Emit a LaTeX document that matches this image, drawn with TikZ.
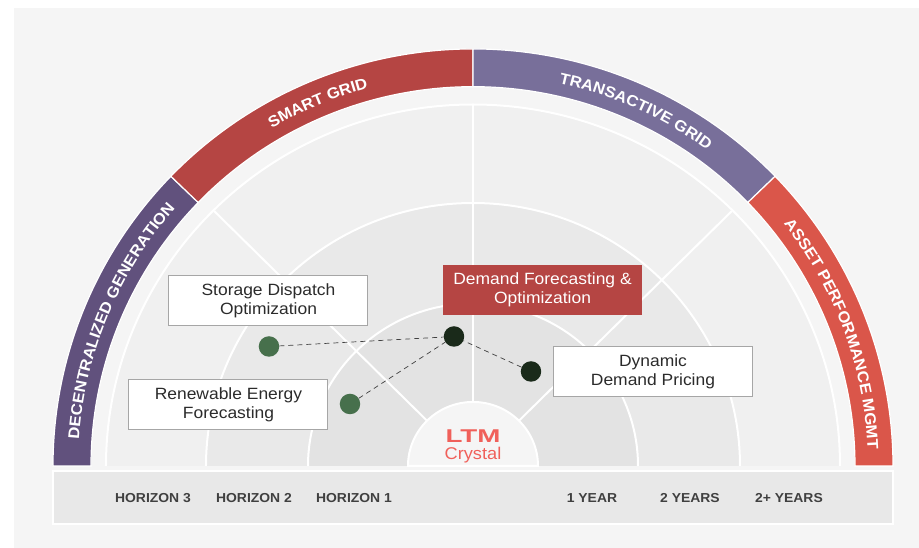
\documentclass[tikz,border=0pt]{standalone}
\usepackage{fontspec}
\setmainfont[FakeStretch=1.07]{Liberation Sans}
\newfontfamily\logofont[FakeStretch=1.5]{Liberation Sans}
\usepackage{xcolor}
\usetikzlibrary{positioning,decorations.text}
\definecolor{pageBg}{HTML}{F5F5F5}
\definecolor{ringA}{HTML}{F0F0F0}
\definecolor{ringB}{HTML}{E9E9E9}
\definecolor{ringC}{HTML}{E3E3E3}
\definecolor{barBg}{HTML}{E8E8E8}
\definecolor{bandPurple}{HTML}{61517D}
\definecolor{bandRed}{HTML}{B54543}
\definecolor{bandSlate}{HTML}{786F9A}
\definecolor{bandCoral}{HTML}{DA564A}
\definecolor{dotGreen}{HTML}{47704C}
\definecolor{dotDark}{HTML}{1A2A1A}
\definecolor{logoRed}{HTML}{F0605A}
\definecolor{textDark}{HTML}{2B2B2B}
\tikzset{
  ring/.style = {draw=white, line width=2pt},
  spoke/.style = {draw=white, line width=2pt},
  band/.style = {draw=white, line width=1.2pt},
  tagbox/.style = {draw=black!35, line width=1pt, fill=white, minimum width=199pt, minimum height=50pt, inner sep=0pt, align=center, text=textDark, font=\fontsize{16.3}{19}\selectfont},
  redbox/.style = {fill=bandRed, minimum width=199pt, minimum height=50pt, inner sep=0pt, align=center, text=white, font=\fontsize{16.3}{19}\selectfont},
  dot/.style = {circle, minimum size=20.5pt, inner sep=0pt},
  axislabel/.style = {font=\fontsize{13}{15}\selectfont\bfseries, text=textDark!90, inner sep=0pt},
  link/.style = {dashed, line width=.7pt, draw=black!75, dash pattern=on 5pt off 4pt}
}
\newcommand{\bandlabel}[4]{%
  \path[decorate, decoration={text along path, text align=center,
    text={|\fontsize{15.5}{15.5}\selectfont\bfseries\color{white}|#1}}]
    (#2:#4) arc (#2:#3:#4);}
\begin{document}
\begin{tikzpicture}[x=1pt, y=1pt]
  \useasboundingbox (-473,-82) rectangle (446,466);
  \fill[white] (-473,-82) rectangle (446,466);
  \fill[pageBg] (-459,-82) rectangle (446,458);

  % half discs
  \begin{scope}[yscale=.985]
    \fill[ringA] (-367,0) arc (180:0:367) -- cycle;
    \draw[ring] (-367,0) arc (180:0:367);
    \fill[ringB] (-267,0) arc (180:0:267) -- cycle;
    \draw[ring] (-267,0) arc (180:0:267);
    \fill[ringC] (-165,0) arc (180:0:165) -- cycle;
    \draw[ring] (-165,0) arc (180:0:165);
    \draw[spoke] (135:65) -- (135:366);
    \draw[spoke] (90:65) -- (90:366);
    \draw[spoke] (45:65) -- (45:366);
    \draw[ring, fill=pageBg] (-65,0) arc (180:0:65) -- cycle;
  \end{scope}

  % bands
  \begin{scope}[yscale=.993]
    \draw[band, fill=bandPurple] (180:420) arc (180:136:420) -- (136:382) arc (136:180:382) -- cycle;
    \draw[band, fill=bandRed] (136:420) arc (136:90:420) -- (90:382) arc (90:136:382) -- cycle;
    \draw[band, fill=bandSlate] (90:420) arc (90:44:420) -- (44:382) arc (44:90:382) -- cycle;
    \draw[band, fill=bandCoral] (44:420) arc (44:0:420) -- (0:382) arc (0:44:382) -- cycle;

    \bandlabel{DECENTRALIZED GENERATION}{180}{135}{395}
    \bandlabel{SMART GRID}{136}{90}{395}
    \bandlabel{TRANSACTIVE GRID}{88.5}{42.5}{395}
    \bandlabel{ASSET PERFORMANCE MGMT}{44}{-3.5}{395}
  \end{scope}

  % bottom bar
  \draw[draw=white, line width=2pt, fill=barBg] (-420,-5) rectangle (420,-58);
  \node[axislabel] (h3) at (-320,-32) {HORIZON 3};
  \node[axislabel] (h2) at (-219,-32) {HORIZON 2};
  \node[axislabel] (h1) at (-119,-32) {HORIZON 1};
  \node[axislabel] (y1) at (119,-32) {1 YEAR};
  \node[axislabel] (y2) at (217,-32) {2 YEARS};
  \node[axislabel] (y3) at (316,-32) {2+ YEARS};

  % logo
  \node[inner sep=0pt, text=logoRed, font=\logofont\fontsize{18.5}{19}\selectfont\bfseries] (ltm) at (0,30) {LTM};
  \node[inner sep=0pt, text=logoRed, font=\fontsize{17}{17}\selectfont, below=4.5pt of ltm] (crystal) {Crystal};

  % dots and links
  \node[dot, fill=dotDark] (hub) at (-19,129.5) {};
  \node[dot, fill=dotDark] (pricing) at (58,94.5) {};
  \node[dot, fill=dotGreen] (storage) at (-204,119.5) {};
  \node[dot, fill=dotGreen] (renew) at (-123,62) {};
  \draw[link] (storage) -- (hub);
  \draw[link] (renew) -- (hub);
  \draw[link] (pricing) -- (hub);

  % boxes
  \node[tagbox] (storagebox) at (-204.5,165.5) {Storage Dispatch\\Optimization};
  \node[tagbox] (renewbox) at (-244.5,61.5) {Renewable Energy\\Forecasting};
  \node[tagbox] (pricingbox) at (180,94) {Dynamic\\Demand Pricing};
  \node[redbox] (forecastbox) at (69.5,176) {Demand Forecasting \&\\Optimization};
\end{tikzpicture}
\end{document}
